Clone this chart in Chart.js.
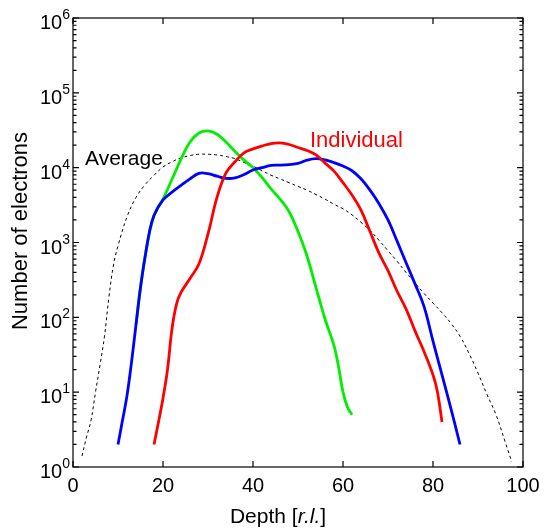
<!DOCTYPE html>
<html>
<head>
<meta charset="utf-8">
<script src="https://cdn.jsdelivr.net/npm/chart.js@4.4.1/dist/chart.umd.min.js"></script>
<style>
  html, body { margin: 0; padding: 0; background: #fff; }
  #wrap { width: 544px; height: 530px; }
</style>
</head>
<body>
<div id="wrap"><canvas id="chart" width="544" height="530"></canvas></div>
<script>
// Shower profiles: number of electrons vs depth (radiation lengths)

const averageDepth = [2, 3, 4, 5, 6, 7, 8, 9, 10, 12, 14, 16, 18, 20, 22, 24, 26, 28, 30, 32, 34, 36, 38, 40,
    42, 44, 46, 48, 50, 52, 54, 56, 58, 60, 62, 64, 66, 68, 70, 72, 74, 76, 78, 80, 82, 84, 86, 88, 90, 92, 94, 96, 97.5];
const averageCount = [1.4, 2.5, 4.2, 10, 23, 56, 190, 500, 900, 2200, 4000, 5900, 7900, 10200, 12000, 13500, 14500, 15100, 15100, 14800, 14100, 13200, 11750, 10470,
    9120, 7940, 7080, 6310, 5620, 5010, 4370, 3800, 3240, 2820, 2340, 1860, 1450, 1070, 776, 562, 398, 288, 209, 155, 115, 83, 56, 33, 18, 9.3, 5, 2.2, 1.17];

const greenDepth = [14, 15, 16, 18, 20, 22, 24, 26, 28, 30, 32, 34, 36, 38, 40, 42, 44, 46, 48, 50, 52, 54, 56, 58, 59, 60, 61, 62];
const greenCount = [80, 250, 640, 2300, 3800, 7000, 13000, 22000, 29000, 31000, 28000, 22000, 16500, 12600, 10000, 7400, 5200, 3800, 2600, 1400, 660, 250, 95, 42, 22, 10, 6.3, 5];

const blueDepth = [10, 11, 12, 13, 14, 15, 16, 17, 18, 20, 22, 24, 26, 28, 30, 32, 34, 36, 38, 40, 42, 44, 46, 48, 50,
    52, 54, 56, 58, 60, 62, 64, 66, 68, 70, 72, 74, 76, 78, 80, 82, 84, 86];
const blueCount = [2, 4.2, 9, 25, 80, 250, 630, 1400, 2300, 3700, 4700, 5800, 7100, 8400, 8300, 7700, 7200, 7300, 8100, 9300, 10000, 10700, 10800, 11000, 11400,
    12600, 13200, 12700, 11700, 10500, 9100, 7100, 5000, 3300, 2000, 1050, 540, 280, 140, 48, 17, 6, 2];

const redDepth = [18, 19, 20, 21, 22, 23, 24, 26, 28, 30, 32, 34, 36, 38, 40, 42, 44, 46, 48, 50, 52, 54, 56, 58, 60,
    62, 64, 66, 68, 70, 72, 74, 76, 78, 80, 81, 82];
const redCount = [2, 4, 8.3, 20, 70, 150, 215, 330, 520, 1300, 4000, 8500, 12000, 15800, 17800, 19500, 21000, 21400, 20400, 18600, 17000, 14800, 11500, 9000, 6300,
    4300, 2700, 1400, 720, 420, 225, 130, 66, 35, 17, 10, 4];

const xTicks = [0, 20, 40, 60, 80, 100];
const yExponents = [0, 1, 2, 3, 4, 5, 6];

const FONT = '"Liberation Sans", Arial, Helvetica, sans-serif';

function points(xs, ys) {
    return xs.map((x, i) => ({ x: x, y: ys[i] }));
}

// Frame, inward ticks and labels drawn with the chart's own scales
const framePlugin = {
    id: 'frame',
    afterDraw(chart) {
        const ctx = chart.ctx;
        const area = chart.chartArea;
        const xs = chart.scales.x;
        const ys = chart.scales.y;
        ctx.save();
        ctx.strokeStyle = '#000';
        ctx.lineWidth = 1.2;
        ctx.strokeRect(area.left, area.top, area.right - area.left, area.bottom - area.top);

        // x ticks (top and bottom, inward)
        ctx.beginPath();
        xTicks.forEach(v => {
            const px = xs.getPixelForValue(v);
            ctx.moveTo(px, area.bottom); ctx.lineTo(px, area.bottom - 6);
            ctx.moveTo(px, area.top); ctx.lineTo(px, area.top + 6);
        });
        // y ticks, major and minor, left and right
        yExponents.forEach(e => {
            const py = ys.getPixelForValue(Math.pow(10, e));
            ctx.moveTo(area.left, py); ctx.lineTo(area.left + 6, py);
            ctx.moveTo(area.right, py); ctx.lineTo(area.right - 6, py);
            if (e < 6) {
                for (let m = 2; m <= 9; m++) {
                    const pm = ys.getPixelForValue(m * Math.pow(10, e));
                    ctx.moveTo(area.left, pm); ctx.lineTo(area.left + 3.5, pm);
                    ctx.moveTo(area.right, pm); ctx.lineTo(area.right - 3.5, pm);
                }
            }
        });
        ctx.stroke();

        ctx.fillStyle = '#000';
        // x tick labels
        ctx.font = '20px ' + FONT;
        ctx.textAlign = 'center';
        ctx.textBaseline = 'alphabetic';
        xTicks.forEach(v => {
            ctx.fillText(String(v), xs.getPixelForValue(v), area.bottom + 25);
        });

        // y tick labels: 10 with superscript exponent
        yExponents.forEach(e => {
            const py = ys.getPixelForValue(Math.pow(10, e));
            ctx.font = '14px ' + FONT;
            const supW = ctx.measureText(String(e)).width;
            const supX = area.left - 3 - supW;
            ctx.textAlign = 'left';
            ctx.fillText(String(e), supX, py + 1);
            ctx.font = '20px ' + FONT;
            ctx.textAlign = 'right';
            ctx.fillText('10', supX, py + 11);
        });

        // axis titles
        ctx.font = '22px ' + FONT;
        ctx.save();
        ctx.translate(27, 231);
        ctx.rotate(-Math.PI / 2);
        ctx.textAlign = 'center';
        ctx.fillText('Number of electrons', 0, 0);
        ctx.restore();

        const parts = [['Depth [', 'normal'], ['r.l.', 'italic'], [']', 'normal']];
        let total = 0;
        parts.forEach(p => {
            ctx.font = p[1] + ' 21px ' + FONT;
            total += ctx.measureText(p[0]).width;
        });
        let cx = 278 - total / 2;
        ctx.textAlign = 'left';
        parts.forEach(p => {
            ctx.font = p[1] + ' 21px ' + FONT;
            ctx.fillText(p[0], cx, 523);
            cx += ctx.measureText(p[0]).width;
        });

        // annotations
        ctx.font = '21px ' + FONT;
        ctx.fillStyle = '#000';
        ctx.fillText('Average', 85, 165);
        ctx.fillStyle = '#ff0000';
        ctx.font = '22px ' + FONT;
        ctx.fillText('Individual', 310, 147);
        ctx.restore();
    }
};

const lineStyle = {
    pointRadius: 0,
    fill: false,
    tension: 0.4,
    borderWidth: 2.8
};

new Chart(document.getElementById('chart').getContext('2d'), {
    type: 'line',
    data: {
        datasets: [
            Object.assign({ label: 'Individual 2', data: points(redDepth, redCount), borderColor: '#ff0000' }, lineStyle),
            Object.assign({ label: 'Individual 3', data: points(blueDepth, blueCount), borderColor: '#0000ff' }, lineStyle),
            Object.assign({ label: 'Individual 1', data: points(greenDepth, greenCount), borderColor: '#00ee00' }, lineStyle),
            Object.assign({ label: 'Average', data: points(averageDepth, averageCount), borderColor: '#000', borderDash: [3, 3] }, lineStyle, { borderWidth: 1 })
        ]
    },
    options: {
        responsive: false,
        animation: false,
        devicePixelRatio: 1,
        layout: { padding: { left: 73, top: 18, right: 21, bottom: 63 } },
        plugins: { legend: { display: false }, tooltip: { enabled: false } },
        scales: {
            x: { type: 'linear', min: 0, max: 100, display: false },
            y: { type: 'logarithmic', min: 1, max: 1e6, display: false }
        }
    },
    plugins: [framePlugin]
});
</script>
</body>
</html>
